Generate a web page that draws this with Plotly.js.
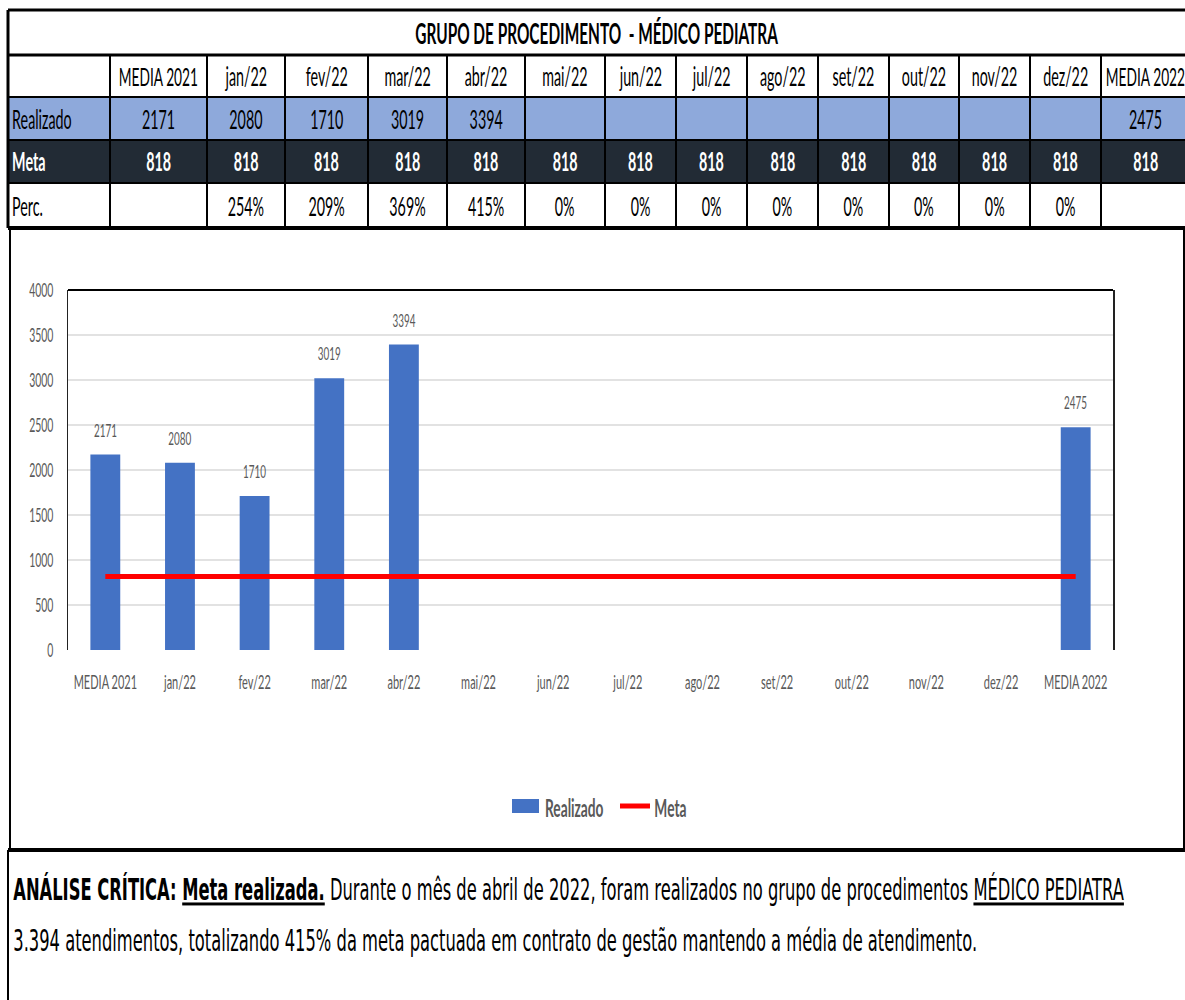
<!DOCTYPE html>
<html>
<head>
<meta charset="utf-8">
<script src="https://cdn.plot.ly/plotly-3.0.1.min.js"></script>
<style>
html,body{margin:0;padding:0;background:#fff;overflow:hidden;width:1185px;height:1000px;}
#chart{width:2155px;height:1000px;transform-origin:0 0;}
</style>
</head>
<body>
<div id="chart"></div>
<script>
// ---- data ----
const categories = ['MEDIA 2021','jan/22','fev/22','mar/22','abr/22','mai/22','jun/22','jul/22','ago/22','set/22','out/22','nov/22','dez/22','MEDIA 2022'];
const realizado = [2171, 2080, 1710, 3019, 3394, null, null, null, null, null, null, null, null, 2475];
const meta = [818, 818, 818, 818, 818, 818, 818, 818, 818, 818, 818, 818, 818, 818];
const perc = [null, 254, 209, 369, 415, 0, 0, 0, 0, 0, 0, 0, 0, null];
const tableTitle = 'GRUPO DE PROCEDIMENTO  - MÉDICO PEDIATRA';
const rowLabels = ['Realizado', 'Meta', 'Perc.'];
const legendLabels = ['Realizado', 'Meta'];
const yTicks = [0, 500, 1000, 1500, 2000, 2500, 3000, 3500, 4000];
const analysisBold = 'ANÁLISE CRÍTICA: ';
const analysisBoldU = 'Meta realizada.';
const analysisLine1 = ' Durante o mês de abril de 2022, foram realizados no grupo de procedimentos ';
const analysisLine1U = 'MÉDICO PEDIATRA';
const analysisLine2 = '3.394 atendimentos, totalizando 415% da meta pactuada em contrato de gestão mantendo a média de atendimento.';

// ---- layout helpers ----
// The reference is a horizontally squeezed spreadsheet capture: the figure is drawn wider and squeezed back.
const W = 1185, H = 1000, WW = 2155, S = W / WW;
document.getElementById('chart').style.transform = 'scaleX(' + S + ')';
const FONT = 'Lato, Roboto, sans-serif';
const TEXTFONT = 'DejaVu Sans, Lato, sans-serif';
const BLUE = '#4472C4', RED = '#FF0000', GREY = '#595959';
const px = x => x / W;
const py = y => 1 - y / H;
const colX = [8, 110, 207, 285, 368, 447, 525, 605, 676, 747, 818, 889, 959, 1030, 1101, 1190];
const rowY = [10, 55, 97, 140, 183, 228];

const shapes = [];
const annotations = [];
function rect(x0, y0, x1, y1, fill, layer) {
  shapes.push({type:'rect', xref:'paper', yref:'paper', x0:px(x0), x1:px(x1), y0:py(y1), y1:py(y0), fillcolor:fill, line:{width:0}, layer:layer || 'below'});
}
function hline(x0, x1, y, w, c) {
  shapes.push({type:'line', xref:'paper', yref:'paper', x0:px(x0), x1:px(x1), y0:py(y), y1:py(y), line:{width:w, color:c||'#000'}});
}
function vline(x, y0, y1, w, c) {
  shapes.push({type:'line', xref:'paper', yref:'paper', x0:px(x), x1:px(x), y0:py(y0), y1:py(y1), line:{width:w / S, color:c||'#000'}});
}
function text(x, y, t, opts) {
  opts = opts || {};
  annotations.push({xref:'paper', yref:'paper', x:px(x), y:py(y), text:t, showarrow:false,
    xanchor: opts.xanchor || 'center', yanchor:'middle',
    font:{family: opts.family || FONT, size: opts.size || 26, color: opts.color || '#000', weight: opts.weight || 'normal'}});
}

// row fills
rect(colX[0], rowY[2], colX[colX.length-1], rowY[3], '#8EA9DB');
rect(colX[0], rowY[3], colX[colX.length-1], rowY[4], '#222B35');

// horizontal table lines
hline(colX[0], W+5, rowY[0], 3);
hline(colX[0], W+5, rowY[1], 3);
hline(colX[0], W+5, rowY[2], 2);
hline(colX[0], W+5, rowY[3], 2);
hline(colX[0], W+5, rowY[4], 2);
hline(colX[0], W+5, rowY[5], 4);
// vertical lines
vline(colX[0], rowY[0], rowY[5], 3);
for (let i = 1; i < colX.length - 1; i++) vline(colX[i], rowY[1], rowY[5], 2);

// chart box and text area borders
vline(10, rowY[5], 850, 2);
vline(1184, rowY[5], 850, 2);
hline(8, W+5, 850, 4);
vline(8, 850, H+5, 2);

// table text
text(597, (rowY[0]+rowY[1])/2 + 1, tableTitle, {weight:'bold', size:28});
const mid = i => (colX[i+1] + colX[i]) / 2;
categories.forEach((c, i) => {
  text(mid(i+1), (rowY[1]+rowY[2])/2, c, {size: c.length > 6 ? 25 : 26});
  if (realizado[i] !== null) text(mid(i+1), (rowY[2]+rowY[3])/2, String(realizado[i]), {});
  text(mid(i+1), (rowY[3]+rowY[4])/2, String(meta[i]), {color:'#fff', weight:'bold'});
  if (perc[i] !== null) text(mid(i+1), (rowY[4]+rowY[5])/2, perc[i] + '%', {});
});
text(colX[0]+3, (rowY[2]+rowY[3])/2, rowLabels[0], {xanchor:'left'});
text(colX[0]+3, (rowY[3]+rowY[4])/2, rowLabels[1], {xanchor:'left', color:'#fff', weight:'bold'});
text(colX[0]+3, (rowY[4]+rowY[5])/2, rowLabels[2], {xanchor:'left'});

// bar value labels
categories.forEach((c, i) => {
  if (realizado[i] === null) return;
  annotations.push({xref:'x', yref:'y', x:c, y:realizado[i], yanchor:'bottom', yshift:12, showarrow:false,
    text:String(realizado[i]), font:{family:FONT, size:18, color:GREY}});
});

// legend (drawn as in the spreadsheet: wide colour key)
rect(512, 799, 539, 813, BLUE, 'above');
hline(620, 650, 806, 5, RED);
text(544, 807, legendLabels[0], {xanchor:'left', size:25, color:GREY, weight:'bold'});
text(653, 807, legendLabels[1], {xanchor:'left', size:25, color:GREY, weight:'bold'});

// analysis text
annotations.push({xref:'paper', yref:'paper', x:px(12), y:py(889), xanchor:'left', yanchor:'middle', showarrow:false,
  text:'<b>' + analysisBold + '<u>' + analysisBoldU + '</u></b>' + analysisLine1 + '<u>' + analysisLine1U + '</u>',
  font:{family:TEXTFONT, size:29.7, color:'#000'}});
annotations.push({xref:'paper', yref:'paper', x:px(12), y:py(940), xanchor:'left', yanchor:'middle', showarrow:false,
  text:analysisLine2, font:{family:TEXTFONT, size:29.7, color:'#000'}});

// plot area top border
shapes.push({type:'line', xref:'x domain', yref:'y domain', x0:0, x1:1, y0:1, y1:1, line:{width:2, color:'#000'}});

const traces = [
  {type:'bar', name:'Realizado', x:categories, y:realizado, marker:{color:BLUE}, hoverinfo:'x+y'},
  {type:'scatter', mode:'lines', name:'Meta', x:categories, y:meta, line:{color:RED, width:5}}
];

const layout = {
  width:WW, height:H, margin:{l:0, r:0, t:0, b:0},
  paper_bgcolor:'#fff', plot_bgcolor:'#fff',
  bargap:0.6,
  showlegend:false,
  xaxis:{domain:[px(68), px(1113)], type:'category', showline:false, showgrid:false, zeroline:false,
    ticks:'outside', ticklen:14, tickcolor:'rgba(0,0,0,0)',
    tickfont:{family:FONT, size:20, color:GREY}},
  yaxis:{domain:[py(650), py(290)], range:[0, 4000], tickvals:yTicks, showgrid:true, gridcolor:'#D9D9D9', gridwidth:1.5,
    zeroline:false, showline:true, mirror:true, linecolor:'#222', linewidth:1.5 / S,
    ticks:'outside', ticklen:20, tickcolor:'rgba(0,0,0,0)',
    tickfont:{family:FONT, size:19, color:GREY}},
  shapes:shapes, annotations:annotations
};

Plotly.newPlot('chart', traces, layout, {displayModeBar:false, staticPlot:true});
</script>
</body>
</html>
